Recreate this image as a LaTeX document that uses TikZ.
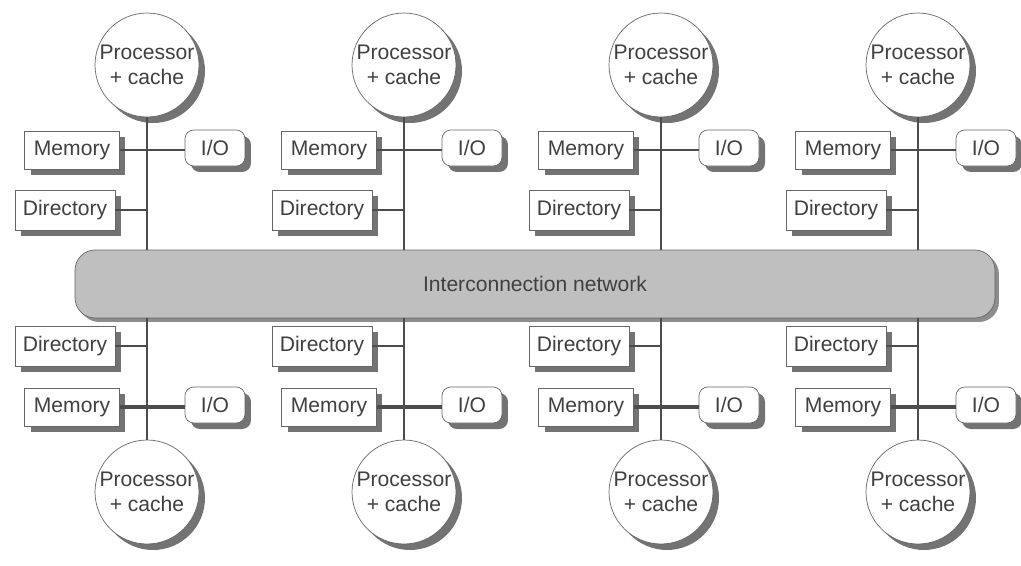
\documentclass[tikz,border=0pt]{standalone}
\usepackage{fontspec}
\setmainfont{Liberation Sans}
\usetikzlibrary{shadows}

\tikzset{
  unit/.style={draw=black!60, fill=white, text=black!75, font=\large,
    drop shadow={shadow xshift=0.12cm, shadow yshift=-0.12cm, fill=black!55, opacity=1}},
  proc/.style={unit, circle, minimum size=2.08cm, inner sep=0pt, align=center},
  mem/.style={unit, minimum width=1.9cm, minimum height=0.76cm},
  dir/.style={unit, minimum width=2cm, minimum height=0.8cm},
  iobox/.style={unit, rounded corners=5pt, minimum width=1.2cm, minimum height=0.72cm},
  bus/.style={draw=black!70, line width=1pt}
}

\begin{document}
\begin{tikzpicture}[x=0.02cm, y=-0.02cm]
\useasboundingbox (0,0) rectangle (1021,565);
\fill[white] (0,0) rectangle (1021,565);

% Interconnection network
\node[draw=black!60, fill=black!25, rounded corners=0.4cm, minimum width=18.4cm,
  minimum height=1.36cm, text=black!75, font=\large,
  drop shadow={shadow xshift=0.08cm, shadow yshift=-0.08cm, fill=black!45, opacity=1}]
  (net) at (535,284) {Interconnection network};

% Nodes on top of the network
\foreach \c [count=\i] in {147,404,661,918} {
  \node[proc] (procT\i) at (\c,65) {Processor\\+ cache};
  \node[mem] (memT\i) at (\c-75,150) {Memory};
  \node[iobox] (ioT\i) at (\c+68,148) {I/O};
  \node[dir] (dirT\i) at (\c-82,210) {Directory};

  \draw[bus] (procT\i.south) -- (procT\i.south |- net.north);
  \draw[bus, line width=1.3pt] (memT\i.east) -- (memT\i.east -| ioT\i.west);
  \draw[bus] (dirT\i.east) -- (dirT\i.east -| procT\i.south);
}

% Nodes under the network
\foreach \c [count=\i] in {147,404,661,918} {
  \node[dir] (dirB\i) at (\c-82,346) {Directory};
  \node[mem] (memB\i) at (\c-75,407) {Memory};
  \node[iobox] (ioB\i) at (\c+68,405) {I/O};
  \node[proc] (procB\i) at (\c,492) {Processor\\+ cache};

  \draw[bus] (procB\i.north) -- (procB\i.north |- net.south);
  \draw[bus, line width=2pt] (memB\i.east) -- (memB\i.east -| ioB\i.west);
  \draw[bus] (dirB\i.east) -- (dirB\i.east -| procB\i.north);
}

\end{tikzpicture}
\end{document}
